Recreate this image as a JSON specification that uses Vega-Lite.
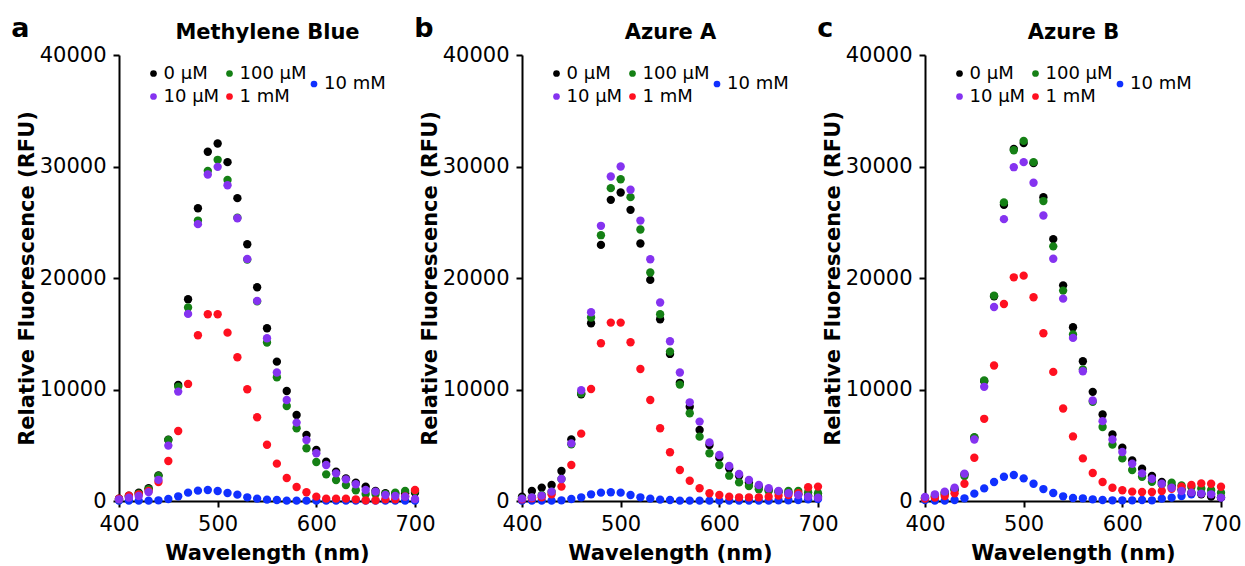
{
"$schema":"https://vega.github.io/schema/vega-lite/v6.json",
"background":"white",
"padding":{"left":11,"top":14,"right":2,"bottom":2},
"datasets":{
"mb":[
{"conc":"0 µM","wl":400,"rfu":200},{"conc":"0 µM","wl":410,"rfu":480},{"conc":"0 µM","wl":420,"rfu":750},{"conc":"0 µM","wl":430,"rfu":1150},{"conc":"0 µM","wl":440,"rfu":2300},{"conc":"0 µM","wl":450,"rfu":5500},{"conc":"0 µM","wl":460,"rfu":10400},{"conc":"0 µM","wl":470,"rfu":18100},{"conc":"0 µM","wl":480,"rfu":26260},{"conc":"0 µM","wl":490,"rfu":31320},{"conc":"0 µM","wl":500,"rfu":32060},{"conc":"0 µM","wl":510,"rfu":30390},{"conc":"0 µM","wl":520,"rfu":27160},{"conc":"0 µM","wl":530,"rfu":23030},{"conc":"0 µM","wl":540,"rfu":19170},{"conc":"0 µM","wl":550,"rfu":15490},{"conc":"0 µM","wl":560,"rfu":12500},{"conc":"0 µM","wl":570,"rfu":9870},{"conc":"0 µM","wl":580,"rfu":7720},{"conc":"0 µM","wl":590,"rfu":5920},{"conc":"0 µM","wl":600,"rfu":4580},{"conc":"0 µM","wl":610,"rfu":3530},{"conc":"0 µM","wl":620,"rfu":2630},{"conc":"0 µM","wl":630,"rfu":2030},{"conc":"0 µM","wl":640,"rfu":1650},{"conc":"0 µM","wl":650,"rfu":1290},{"conc":"0 µM","wl":660,"rfu":900},{"conc":"0 µM","wl":670,"rfu":700},{"conc":"0 µM","wl":680,"rfu":650},{"conc":"0 µM","wl":690,"rfu":700},{"conc":"0 µM","wl":700,"rfu":750},
{"conc":"100 µM","wl":400,"rfu":150},{"conc":"100 µM","wl":410,"rfu":380},{"conc":"100 µM","wl":420,"rfu":650},{"conc":"100 µM","wl":430,"rfu":1050},{"conc":"100 µM","wl":440,"rfu":2240},{"conc":"100 µM","wl":450,"rfu":5470},{"conc":"100 µM","wl":460,"rfu":10260},{"conc":"100 µM","wl":470,"rfu":17350},{"conc":"100 µM","wl":480,"rfu":25150},{"conc":"100 µM","wl":490,"rfu":29610},{"conc":"100 µM","wl":500,"rfu":30600},{"conc":"100 µM","wl":510,"rfu":28800},{"conc":"100 µM","wl":520,"rfu":25400},{"conc":"100 µM","wl":530,"rfu":21650},{"conc":"100 µM","wl":540,"rfu":17900},{"conc":"100 µM","wl":550,"rfu":14210},{"conc":"100 µM","wl":560,"rfu":11100},{"conc":"100 µM","wl":570,"rfu":8520},{"conc":"100 µM","wl":580,"rfu":6520},{"conc":"100 µM","wl":590,"rfu":4730},{"conc":"100 µM","wl":600,"rfu":3500},{"conc":"100 µM","wl":610,"rfu":2390},{"conc":"100 µM","wl":620,"rfu":1880},{"conc":"100 µM","wl":630,"rfu":1440},{"conc":"100 µM","wl":640,"rfu":960},{"conc":"100 µM","wl":650,"rfu":630},{"conc":"100 µM","wl":660,"rfu":630},{"conc":"100 µM","wl":670,"rfu":630},{"conc":"100 µM","wl":680,"rfu":750},{"conc":"100 µM","wl":690,"rfu":900},{"conc":"100 µM","wl":700,"rfu":900},
{"conc":"1 mM","wl":400,"rfu":200},{"conc":"1 mM","wl":410,"rfu":480},{"conc":"1 mM","wl":420,"rfu":600},{"conc":"1 mM","wl":430,"rfu":900},{"conc":"1 mM","wl":440,"rfu":1700},{"conc":"1 mM","wl":450,"rfu":3590},{"conc":"1 mM","wl":460,"rfu":6280},{"conc":"1 mM","wl":470,"rfu":10500},{"conc":"1 mM","wl":480,"rfu":14870},{"conc":"1 mM","wl":490,"rfu":16750},{"conc":"1 mM","wl":500,"rfu":16750},{"conc":"1 mM","wl":510,"rfu":15100},{"conc":"1 mM","wl":520,"rfu":12890},{"conc":"1 mM","wl":530,"rfu":10020},{"conc":"1 mM","wl":540,"rfu":7510},{"conc":"1 mM","wl":550,"rfu":5050},{"conc":"1 mM","wl":560,"rfu":3350},{"conc":"1 mM","wl":570,"rfu":2060},{"conc":"1 mM","wl":580,"rfu":1260},{"conc":"1 mM","wl":590,"rfu":780},{"conc":"1 mM","wl":600,"rfu":390},{"conc":"1 mM","wl":610,"rfu":210},{"conc":"1 mM","wl":620,"rfu":210},{"conc":"1 mM","wl":630,"rfu":210},{"conc":"1 mM","wl":640,"rfu":150},{"conc":"1 mM","wl":650,"rfu":60},{"conc":"1 mM","wl":660,"rfu":60},{"conc":"1 mM","wl":670,"rfu":150},{"conc":"1 mM","wl":680,"rfu":150},{"conc":"1 mM","wl":690,"rfu":400},{"conc":"1 mM","wl":700,"rfu":990},
{"conc":"10 µM","wl":400,"rfu":150},{"conc":"10 µM","wl":410,"rfu":300},{"conc":"10 µM","wl":420,"rfu":450},{"conc":"10 µM","wl":430,"rfu":800},{"conc":"10 µM","wl":440,"rfu":1900},{"conc":"10 µM","wl":450,"rfu":4970},{"conc":"10 µM","wl":460,"rfu":9810},{"conc":"10 µM","wl":470,"rfu":16780},{"conc":"10 µM","wl":480,"rfu":24830},{"conc":"10 µM","wl":490,"rfu":29280},{"conc":"10 µM","wl":500,"rfu":29970},{"conc":"10 µM","wl":510,"rfu":28320},{"conc":"10 µM","wl":520,"rfu":25360},{"conc":"10 µM","wl":530,"rfu":21710},{"conc":"10 µM","wl":540,"rfu":17950},{"conc":"10 µM","wl":550,"rfu":14600},{"conc":"10 µM","wl":560,"rfu":11520},{"conc":"10 µM","wl":570,"rfu":9060},{"conc":"10 µM","wl":580,"rfu":7030},{"conc":"10 µM","wl":590,"rfu":5470},{"conc":"10 µM","wl":600,"rfu":4280},{"conc":"10 µM","wl":610,"rfu":3230},{"conc":"10 µM","wl":620,"rfu":2480},{"conc":"10 µM","wl":630,"rfu":1940},{"conc":"10 µM","wl":640,"rfu":1500},{"conc":"10 µM","wl":650,"rfu":990},{"conc":"10 µM","wl":660,"rfu":840},{"conc":"10 µM","wl":670,"rfu":540},{"conc":"10 µM","wl":680,"rfu":450},{"conc":"10 µM","wl":690,"rfu":390},{"conc":"10 µM","wl":700,"rfu":180},
{"conc":"10 mM","wl":400,"rfu":30},{"conc":"10 mM","wl":410,"rfu":30},{"conc":"10 mM","wl":420,"rfu":30},{"conc":"10 mM","wl":430,"rfu":30},{"conc":"10 mM","wl":440,"rfu":60},{"conc":"10 mM","wl":450,"rfu":180},{"conc":"10 mM","wl":460,"rfu":420},{"conc":"10 mM","wl":470,"rfu":750},{"conc":"10 mM","wl":480,"rfu":930},{"conc":"10 mM","wl":490,"rfu":990},{"conc":"10 mM","wl":500,"rfu":900},{"conc":"10 mM","wl":510,"rfu":720},{"conc":"10 mM","wl":520,"rfu":570},{"conc":"10 mM","wl":530,"rfu":330},{"conc":"10 mM","wl":540,"rfu":210},{"conc":"10 mM","wl":550,"rfu":120},{"conc":"10 mM","wl":560,"rfu":90},{"conc":"10 mM","wl":570,"rfu":30},{"conc":"10 mM","wl":580,"rfu":30},{"conc":"10 mM","wl":590,"rfu":30},{"conc":"10 mM","wl":600,"rfu":30},{"conc":"10 mM","wl":610,"rfu":30},{"conc":"10 mM","wl":620,"rfu":30},{"conc":"10 mM","wl":630,"rfu":30},{"conc":"10 mM","wl":640,"rfu":30},{"conc":"10 mM","wl":650,"rfu":30},{"conc":"10 mM","wl":660,"rfu":30},{"conc":"10 mM","wl":670,"rfu":30},{"conc":"10 mM","wl":680,"rfu":30},{"conc":"10 mM","wl":690,"rfu":30},{"conc":"10 mM","wl":700,"rfu":30}
],
"aa":[
{"conc":"0 µM","wl":400,"rfu":390},{"conc":"0 µM","wl":410,"rfu":900},{"conc":"0 µM","wl":420,"rfu":1200},{"conc":"0 µM","wl":430,"rfu":1440},{"conc":"0 µM","wl":440,"rfu":2690},{"conc":"0 µM","wl":450,"rfu":5530},{"conc":"0 µM","wl":460,"rfu":9570},{"conc":"0 µM","wl":470,"rfu":15940},{"conc":"0 µM","wl":480,"rfu":22970},{"conc":"0 µM","wl":490,"rfu":27010},{"conc":"0 µM","wl":500,"rfu":27670},{"conc":"0 µM","wl":510,"rfu":26110},{"conc":"0 µM","wl":520,"rfu":23090},{"conc":"0 µM","wl":530,"rfu":19830},{"conc":"0 µM","wl":540,"rfu":16300},{"conc":"0 µM","wl":550,"rfu":13190},{"conc":"0 µM","wl":560,"rfu":10600},{"conc":"0 µM","wl":570,"rfu":8460},{"conc":"0 µM","wl":580,"rfu":6370},{"conc":"0 µM","wl":590,"rfu":5020},{"conc":"0 µM","wl":600,"rfu":3890},{"conc":"0 µM","wl":610,"rfu":2930},{"conc":"0 µM","wl":620,"rfu":2270},{"conc":"0 µM","wl":630,"rfu":1670},{"conc":"0 µM","wl":640,"rfu":1290},{"conc":"0 µM","wl":650,"rfu":990},{"conc":"0 µM","wl":660,"rfu":840},{"conc":"0 µM","wl":670,"rfu":750},{"conc":"0 µM","wl":680,"rfu":600},{"conc":"0 µM","wl":690,"rfu":480},{"conc":"0 µM","wl":700,"rfu":390},
{"conc":"100 µM","wl":400,"rfu":240},{"conc":"100 µM","wl":410,"rfu":330},{"conc":"100 µM","wl":420,"rfu":540},{"conc":"100 µM","wl":430,"rfu":840},{"conc":"100 µM","wl":440,"rfu":1970},{"conc":"100 µM","wl":450,"rfu":5080},{"conc":"100 µM","wl":460,"rfu":9660},{"conc":"100 µM","wl":470,"rfu":16450},{"conc":"100 µM","wl":480,"rfu":23840},{"conc":"100 µM","wl":490,"rfu":28060},{"conc":"100 µM","wl":500,"rfu":28860},{"conc":"100 µM","wl":510,"rfu":27250},{"conc":"100 µM","wl":520,"rfu":24350},{"conc":"100 µM","wl":530,"rfu":20490},{"conc":"100 µM","wl":540,"rfu":16750},{"conc":"100 µM","wl":550,"rfu":13400},{"conc":"100 µM","wl":560,"rfu":10440},{"conc":"100 µM","wl":570,"rfu":7870},{"conc":"100 µM","wl":580,"rfu":5770},{"conc":"100 µM","wl":590,"rfu":4280},{"conc":"100 µM","wl":600,"rfu":3230},{"conc":"100 µM","wl":610,"rfu":2270},{"conc":"100 µM","wl":620,"rfu":1670},{"conc":"100 µM","wl":630,"rfu":1350},{"conc":"100 µM","wl":640,"rfu":1050},{"conc":"100 µM","wl":650,"rfu":900},{"conc":"100 µM","wl":660,"rfu":840},{"conc":"100 µM","wl":670,"rfu":900},{"conc":"100 µM","wl":680,"rfu":900},{"conc":"100 µM","wl":690,"rfu":780},{"conc":"100 µM","wl":700,"rfu":690},
{"conc":"1 mM","wl":400,"rfu":150},{"conc":"1 mM","wl":410,"rfu":240},{"conc":"1 mM","wl":420,"rfu":330},{"conc":"1 mM","wl":430,"rfu":600},{"conc":"1 mM","wl":440,"rfu":1290},{"conc":"1 mM","wl":450,"rfu":3230},{"conc":"1 mM","wl":460,"rfu":6040},{"conc":"1 mM","wl":470,"rfu":10050},{"conc":"1 mM","wl":480,"rfu":14150},{"conc":"1 mM","wl":490,"rfu":16000},{"conc":"1 mM","wl":500,"rfu":16000},{"conc":"1 mM","wl":510,"rfu":14240},{"conc":"1 mM","wl":520,"rfu":11840},{"conc":"1 mM","wl":530,"rfu":9060},{"conc":"1 mM","wl":540,"rfu":6520},{"conc":"1 mM","wl":550,"rfu":4370},{"conc":"1 mM","wl":560,"rfu":2780},{"conc":"1 mM","wl":570,"rfu":1820},{"conc":"1 mM","wl":580,"rfu":1140},{"conc":"1 mM","wl":590,"rfu":690},{"conc":"1 mM","wl":600,"rfu":540},{"conc":"1 mM","wl":610,"rfu":390},{"conc":"1 mM","wl":620,"rfu":330},{"conc":"1 mM","wl":630,"rfu":330},{"conc":"1 mM","wl":640,"rfu":330},{"conc":"1 mM","wl":650,"rfu":390},{"conc":"1 mM","wl":660,"rfu":480},{"conc":"1 mM","wl":670,"rfu":540},{"conc":"1 mM","wl":680,"rfu":690},{"conc":"1 mM","wl":690,"rfu":1230},{"conc":"1 mM","wl":700,"rfu":1290},
{"conc":"10 µM","wl":400,"rfu":210},{"conc":"10 µM","wl":410,"rfu":330},{"conc":"10 µM","wl":420,"rfu":480},{"conc":"10 µM","wl":430,"rfu":840},{"conc":"10 µM","wl":440,"rfu":1970},{"conc":"10 µM","wl":450,"rfu":5170},{"conc":"10 µM","wl":460,"rfu":9930},{"conc":"10 µM","wl":470,"rfu":16930},{"conc":"10 µM","wl":480,"rfu":24680},{"conc":"10 µM","wl":490,"rfu":29100},{"conc":"10 µM","wl":500,"rfu":30000},{"conc":"10 µM","wl":510,"rfu":27910},{"conc":"10 µM","wl":520,"rfu":25150},{"conc":"10 µM","wl":530,"rfu":21680},{"conc":"10 µM","wl":540,"rfu":17800},{"conc":"10 µM","wl":550,"rfu":14330},{"conc":"10 µM","wl":560,"rfu":11520},{"conc":"10 µM","wl":570,"rfu":8850},{"conc":"10 µM","wl":580,"rfu":7120},{"conc":"10 µM","wl":590,"rfu":5260},{"conc":"10 µM","wl":600,"rfu":4130},{"conc":"10 µM","wl":610,"rfu":3140},{"conc":"10 µM","wl":620,"rfu":2420},{"conc":"10 µM","wl":630,"rfu":1880},{"conc":"10 µM","wl":640,"rfu":1440},{"conc":"10 µM","wl":650,"rfu":1140},{"conc":"10 µM","wl":660,"rfu":900},{"conc":"10 µM","wl":670,"rfu":690},{"conc":"10 µM","wl":680,"rfu":540},{"conc":"10 µM","wl":690,"rfu":390},{"conc":"10 µM","wl":700,"rfu":300},
{"conc":"10 mM","wl":400,"rfu":30},{"conc":"10 mM","wl":410,"rfu":30},{"conc":"10 mM","wl":420,"rfu":30},{"conc":"10 mM","wl":430,"rfu":30},{"conc":"10 mM","wl":440,"rfu":60},{"conc":"10 mM","wl":450,"rfu":180},{"conc":"10 mM","wl":460,"rfu":330},{"conc":"10 mM","wl":470,"rfu":600},{"conc":"10 mM","wl":480,"rfu":750},{"conc":"10 mM","wl":490,"rfu":780},{"conc":"10 mM","wl":500,"rfu":750},{"conc":"10 mM","wl":510,"rfu":540},{"conc":"10 mM","wl":520,"rfu":330},{"conc":"10 mM","wl":530,"rfu":210},{"conc":"10 mM","wl":540,"rfu":120},{"conc":"10 mM","wl":550,"rfu":90},{"conc":"10 mM","wl":560,"rfu":30},{"conc":"10 mM","wl":570,"rfu":30},{"conc":"10 mM","wl":580,"rfu":30},{"conc":"10 mM","wl":590,"rfu":30},{"conc":"10 mM","wl":600,"rfu":30},{"conc":"10 mM","wl":610,"rfu":30},{"conc":"10 mM","wl":620,"rfu":30},{"conc":"10 mM","wl":630,"rfu":30},{"conc":"10 mM","wl":640,"rfu":30},{"conc":"10 mM","wl":650,"rfu":30},{"conc":"10 mM","wl":660,"rfu":60},{"conc":"10 mM","wl":670,"rfu":60},{"conc":"10 mM","wl":680,"rfu":90},{"conc":"10 mM","wl":690,"rfu":150},{"conc":"10 mM","wl":700,"rfu":180}
],
"ab":[
{"conc":"0 µM","wl":400,"rfu":300},{"conc":"0 µM","wl":410,"rfu":450},{"conc":"0 µM","wl":420,"rfu":750},{"conc":"0 µM","wl":430,"rfu":1040},{"conc":"0 µM","wl":440,"rfu":2390},{"conc":"0 µM","wl":450,"rfu":5670},{"conc":"0 µM","wl":460,"rfu":10750},{"conc":"0 µM","wl":470,"rfu":18360},{"conc":"0 µM","wl":480,"rfu":26570},{"conc":"0 µM","wl":490,"rfu":31580},{"conc":"0 µM","wl":500,"rfu":32100},{"conc":"0 µM","wl":510,"rfu":30300},{"conc":"0 µM","wl":520,"rfu":27250},{"conc":"0 µM","wl":530,"rfu":23490},{"conc":"0 µM","wl":540,"rfu":19340},{"conc":"0 µM","wl":550,"rfu":15580},{"conc":"0 µM","wl":560,"rfu":12540},{"conc":"0 µM","wl":570,"rfu":9790},{"conc":"0 µM","wl":580,"rfu":7760},{"conc":"0 µM","wl":590,"rfu":5970},{"conc":"0 µM","wl":600,"rfu":4780},{"conc":"0 µM","wl":610,"rfu":3640},{"conc":"0 µM","wl":620,"rfu":2900},{"conc":"0 µM","wl":630,"rfu":2240},{"conc":"0 µM","wl":640,"rfu":1700},{"conc":"0 µM","wl":650,"rfu":1340},{"conc":"0 µM","wl":660,"rfu":1040},{"conc":"0 µM","wl":670,"rfu":750},{"conc":"0 µM","wl":680,"rfu":600},{"conc":"0 µM","wl":690,"rfu":390},{"conc":"0 µM","wl":700,"rfu":300},
{"conc":"100 µM","wl":400,"rfu":240},{"conc":"100 µM","wl":410,"rfu":390},{"conc":"100 µM","wl":420,"rfu":600},{"conc":"100 µM","wl":430,"rfu":990},{"conc":"100 µM","wl":440,"rfu":2240},{"conc":"100 µM","wl":450,"rfu":5730},{"conc":"100 µM","wl":460,"rfu":10810},{"conc":"100 µM","wl":470,"rfu":18420},{"conc":"100 µM","wl":480,"rfu":26780},{"conc":"100 µM","wl":490,"rfu":31460},{"conc":"100 µM","wl":500,"rfu":32300},{"conc":"100 µM","wl":510,"rfu":30390},{"conc":"100 µM","wl":520,"rfu":26900},{"conc":"100 µM","wl":530,"rfu":22840},{"conc":"100 µM","wl":540,"rfu":18870},{"conc":"100 µM","wl":550,"rfu":14930},{"conc":"100 µM","wl":560,"rfu":11790},{"conc":"100 µM","wl":570,"rfu":8900},{"conc":"100 µM","wl":580,"rfu":6630},{"conc":"100 µM","wl":590,"rfu":5070},{"conc":"100 µM","wl":600,"rfu":3820},{"conc":"100 µM","wl":610,"rfu":2780},{"conc":"100 µM","wl":620,"rfu":2180},{"conc":"100 µM","wl":630,"rfu":1730},{"conc":"100 µM","wl":640,"rfu":1490},{"conc":"100 µM","wl":650,"rfu":1640},{"conc":"100 µM","wl":660,"rfu":1400},{"conc":"100 µM","wl":670,"rfu":1250},{"conc":"100 µM","wl":680,"rfu":1130},{"conc":"100 µM","wl":690,"rfu":990},{"conc":"100 µM","wl":700,"rfu":750},
{"conc":"1 mM","wl":400,"rfu":210},{"conc":"1 mM","wl":410,"rfu":300},{"conc":"1 mM","wl":420,"rfu":450},{"conc":"1 mM","wl":430,"rfu":690},{"conc":"1 mM","wl":440,"rfu":1550},{"conc":"1 mM","wl":450,"rfu":3880},{"conc":"1 mM","wl":460,"rfu":7370},{"conc":"1 mM","wl":470,"rfu":12150},{"conc":"1 mM","wl":480,"rfu":17670},{"conc":"1 mM","wl":490,"rfu":20060},{"conc":"1 mM","wl":500,"rfu":20210},{"conc":"1 mM","wl":510,"rfu":18270},{"conc":"1 mM","wl":520,"rfu":15040},{"conc":"1 mM","wl":530,"rfu":11580},{"conc":"1 mM","wl":540,"rfu":8300},{"conc":"1 mM","wl":550,"rfu":5790},{"conc":"1 mM","wl":560,"rfu":3820},{"conc":"1 mM","wl":570,"rfu":2510},{"conc":"1 mM","wl":580,"rfu":1700},{"conc":"1 mM","wl":590,"rfu":1190},{"conc":"1 mM","wl":600,"rfu":960},{"conc":"1 mM","wl":610,"rfu":840},{"conc":"1 mM","wl":620,"rfu":810},{"conc":"1 mM","wl":630,"rfu":810},{"conc":"1 mM","wl":640,"rfu":900},{"conc":"1 mM","wl":650,"rfu":1100},{"conc":"1 mM","wl":660,"rfu":1280},{"conc":"1 mM","wl":670,"rfu":1430},{"conc":"1 mM","wl":680,"rfu":1580},{"conc":"1 mM","wl":690,"rfu":1550},{"conc":"1 mM","wl":700,"rfu":1280},
{"conc":"10 µM","wl":400,"rfu":360},{"conc":"10 µM","wl":410,"rfu":600},{"conc":"10 µM","wl":420,"rfu":840},{"conc":"10 µM","wl":430,"rfu":1190},{"conc":"10 µM","wl":440,"rfu":2450},{"conc":"10 µM","wl":450,"rfu":5520},{"conc":"10 µM","wl":460,"rfu":10240},{"conc":"10 µM","wl":470,"rfu":17400},{"conc":"10 µM","wl":480,"rfu":25280},{"conc":"10 µM","wl":490,"rfu":29940},{"conc":"10 µM","wl":500,"rfu":30390},{"conc":"10 µM","wl":510,"rfu":28540},{"conc":"10 µM","wl":520,"rfu":25610},{"conc":"10 µM","wl":530,"rfu":21730},{"conc":"10 µM","wl":540,"rfu":18150},{"conc":"10 µM","wl":550,"rfu":14630},{"conc":"10 µM","wl":560,"rfu":11640},{"conc":"10 µM","wl":570,"rfu":9010},{"conc":"10 µM","wl":580,"rfu":7160},{"conc":"10 µM","wl":590,"rfu":5520},{"conc":"10 µM","wl":600,"rfu":4390},{"conc":"10 µM","wl":610,"rfu":3340},{"conc":"10 µM","wl":620,"rfu":2480},{"conc":"10 µM","wl":630,"rfu":2000},{"conc":"10 µM","wl":640,"rfu":1550},{"conc":"10 µM","wl":650,"rfu":1190},{"conc":"10 µM","wl":660,"rfu":900},{"conc":"10 µM","wl":670,"rfu":750},{"conc":"10 µM","wl":680,"rfu":660},{"conc":"10 µM","wl":690,"rfu":600},{"conc":"10 µM","wl":700,"rfu":300},
{"conc":"10 mM","wl":400,"rfu":90},{"conc":"10 mM","wl":410,"rfu":30},{"conc":"10 mM","wl":420,"rfu":30},{"conc":"10 mM","wl":430,"rfu":90},{"conc":"10 mM","wl":440,"rfu":240},{"conc":"10 mM","wl":450,"rfu":660},{"conc":"10 mM","wl":460,"rfu":1130},{"conc":"10 mM","wl":470,"rfu":1700},{"conc":"10 mM","wl":480,"rfu":2180},{"conc":"10 mM","wl":490,"rfu":2330},{"conc":"10 mM","wl":500,"rfu":2030},{"conc":"10 mM","wl":510,"rfu":1550},{"conc":"10 mM","wl":520,"rfu":1070},{"conc":"10 mM","wl":530,"rfu":720},{"conc":"10 mM","wl":540,"rfu":420},{"conc":"10 mM","wl":550,"rfu":270},{"conc":"10 mM","wl":560,"rfu":240},{"conc":"10 mM","wl":570,"rfu":150},{"conc":"10 mM","wl":580,"rfu":90},{"conc":"10 mM","wl":590,"rfu":60},{"conc":"10 mM","wl":600,"rfu":60},{"conc":"10 mM","wl":610,"rfu":60},{"conc":"10 mM","wl":620,"rfu":90},{"conc":"10 mM","wl":630,"rfu":60},{"conc":"10 mM","wl":640,"rfu":210},{"conc":"10 mM","wl":650,"rfu":300},{"conc":"10 mM","wl":660,"rfu":450},{"conc":"10 mM","wl":670,"rfu":600},{"conc":"10 mM","wl":680,"rfu":690},{"conc":"10 mM","wl":690,"rfu":660},{"conc":"10 mM","wl":700,"rfu":300}
]
},
"hconcat":[
{"title":{"text":"a","anchor":"start","frame":"bounds","dx":-5,"dy":25.5},
 "width":296,"height":446,"data":{"name":"mb"},
 "encoding":{"y":{"field":"rfu","type":"quantitative","scale":{"domain":[0,40000],"nice":false},"axis":{"values":[0,10000,20000,30000,40000],"format":"d","title":"Relative Fluorescence (RFU)","titlePadding":2,"labelPadding":7}}},
 "layer":[
  {"transform":[{"filter":"datum.conc == '10 mM'"}],
   "mark":{"type":"point","shape":"circle","filled":true,"opacity":1,"size":70,"strokeWidth":0},
   "encoding":{"x":{"field":"wl","type":"quantitative","scale":{"domain":[400,700],"nice":false},"axis":{"orient":"top","title":"Methylene Blue","labels":false,"ticks":false,"domain":false,"titlePadding":13}},
    "fill":{"field":"conc","type":"nominal","scale":{"domain":["10 mM"],"range":["#1030ff"]},"legend":{"title":null,"orient":"none","legendX":186,"legendY":20}}}},
  {"transform":[{"filter":"datum.conc != '10 mM'"}],
   "mark":{"type":"point","shape":"circle","filled":true,"opacity":1,"size":70,"strokeWidth":0},
   "encoding":{"x":{"field":"wl","type":"quantitative","scale":{"domain":[400,700],"nice":false},"axis":{"values":[400,500,600,700],"title":"Wavelength (nm)","labelFlush":false,"labelPadding":6,"titlePadding":8}},
    "color":{"field":"conc","type":"nominal","scale":{"domain":["0 µM","10 µM","100 µM","1 mM"],"range":["#000000","#8533f0","#158015","#ff1020"]},"legend":{"title":null,"orient":"none","legendX":25.5,"legendY":9.5,"columns":2}}}}
 ],
 "resolve":{"axis":{"x":"independent"}}
},
{"title":{"text":"b","anchor":"start","frame":"bounds","dx":-5,"dy":25.5},
 "width":296,"height":446,"data":{"name":"aa"},
 "encoding":{"y":{"field":"rfu","type":"quantitative","scale":{"domain":[0,40000],"nice":false},"axis":{"values":[0,10000,20000,30000,40000],"format":"d","title":"Relative Fluorescence (RFU)","titlePadding":2,"labelPadding":7}}},
 "layer":[
  {"transform":[{"filter":"datum.conc == '10 mM'"}],
   "mark":{"type":"point","shape":"circle","filled":true,"opacity":1,"size":70,"strokeWidth":0},
   "encoding":{"x":{"field":"wl","type":"quantitative","scale":{"domain":[400,700],"nice":false},"axis":{"orient":"top","title":"Azure A","labels":false,"ticks":false,"domain":false,"titlePadding":13}},
    "fill":{"field":"conc","type":"nominal","scale":{"domain":["10 mM"],"range":["#1030ff"]},"legend":{"title":null,"orient":"none","legendX":186,"legendY":20}}}},
  {"transform":[{"filter":"datum.conc != '10 mM'"}],
   "mark":{"type":"point","shape":"circle","filled":true,"opacity":1,"size":70,"strokeWidth":0},
   "encoding":{"x":{"field":"wl","type":"quantitative","scale":{"domain":[400,700],"nice":false},"axis":{"values":[400,500,600,700],"title":"Wavelength (nm)","labelFlush":false,"labelPadding":6,"titlePadding":8}},
    "color":{"field":"conc","type":"nominal","scale":{"domain":["0 µM","10 µM","100 µM","1 mM"],"range":["#000000","#8533f0","#158015","#ff1020"]},"legend":{"title":null,"orient":"none","legendX":25.5,"legendY":9.5,"columns":2}}}}
 ],
 "resolve":{"axis":{"x":"independent"}}
},
{"title":{"text":"c","anchor":"start","frame":"bounds","dx":-5,"dy":25.5},
 "width":296,"height":446,"data":{"name":"ab"},
 "encoding":{"y":{"field":"rfu","type":"quantitative","scale":{"domain":[0,40000],"nice":false},"axis":{"values":[0,10000,20000,30000,40000],"format":"d","title":"Relative Fluorescence (RFU)","titlePadding":2,"labelPadding":7}}},
 "layer":[
  {"transform":[{"filter":"datum.conc == '10 mM'"}],
   "mark":{"type":"point","shape":"circle","filled":true,"opacity":1,"size":70,"strokeWidth":0},
   "encoding":{"x":{"field":"wl","type":"quantitative","scale":{"domain":[400,700],"nice":false},"axis":{"orient":"top","title":"Azure B","labels":false,"ticks":false,"domain":false,"titlePadding":13}},
    "fill":{"field":"conc","type":"nominal","scale":{"domain":["10 mM"],"range":["#1030ff"]},"legend":{"title":null,"orient":"none","legendX":186,"legendY":20}}}},
  {"transform":[{"filter":"datum.conc != '10 mM'"}],
   "mark":{"type":"point","shape":"circle","filled":true,"opacity":1,"size":70,"strokeWidth":0},
   "encoding":{"x":{"field":"wl","type":"quantitative","scale":{"domain":[400,700],"nice":false},"axis":{"values":[400,500,600,700],"title":"Wavelength (nm)","labelFlush":false,"labelPadding":6,"titlePadding":8}},
    "color":{"field":"conc","type":"nominal","scale":{"domain":["0 µM","10 µM","100 µM","1 mM"],"range":["#000000","#8533f0","#158015","#ff1020"]},"legend":{"title":null,"orient":"none","legendX":25.5,"legendY":9.5,"columns":2}}}}
 ],
 "resolve":{"axis":{"x":"independent"}}
}
],
"spacing":107,
"bounds":"flush",
"resolve":{"scale":{"color":"independent","fill":"independent"},"legend":{"color":"independent","fill":"independent"}},
"config":{
 "view":{"stroke":null},
 "font":"DejaVu Sans",
 "axis":{"domainColor":"black","domainWidth":2,"tickColor":"black","tickWidth":2,"tickSize":6,"labelFont":"DejaVu Sans","labelFontSize":21,"labelColor":"black","titleFont":"DejaVu Sans","titleFontSize":21,"titleFontWeight":"bold","titleColor":"black","grid":false},
 "legend":{"labelFont":"DejaVu Sans","labelFontSize":18,"labelColor":"black","symbolType":"circle","symbolSize":45,"symbolStrokeWidth":0,"symbolOpacity":1,"rowPadding":5,"columnPadding":1,"labelOffset":1,"padding":0},
 "title":{"font":"DejaVu Sans","fontSize":27,"fontWeight":"bold","color":"black","offset":4}
}
}
